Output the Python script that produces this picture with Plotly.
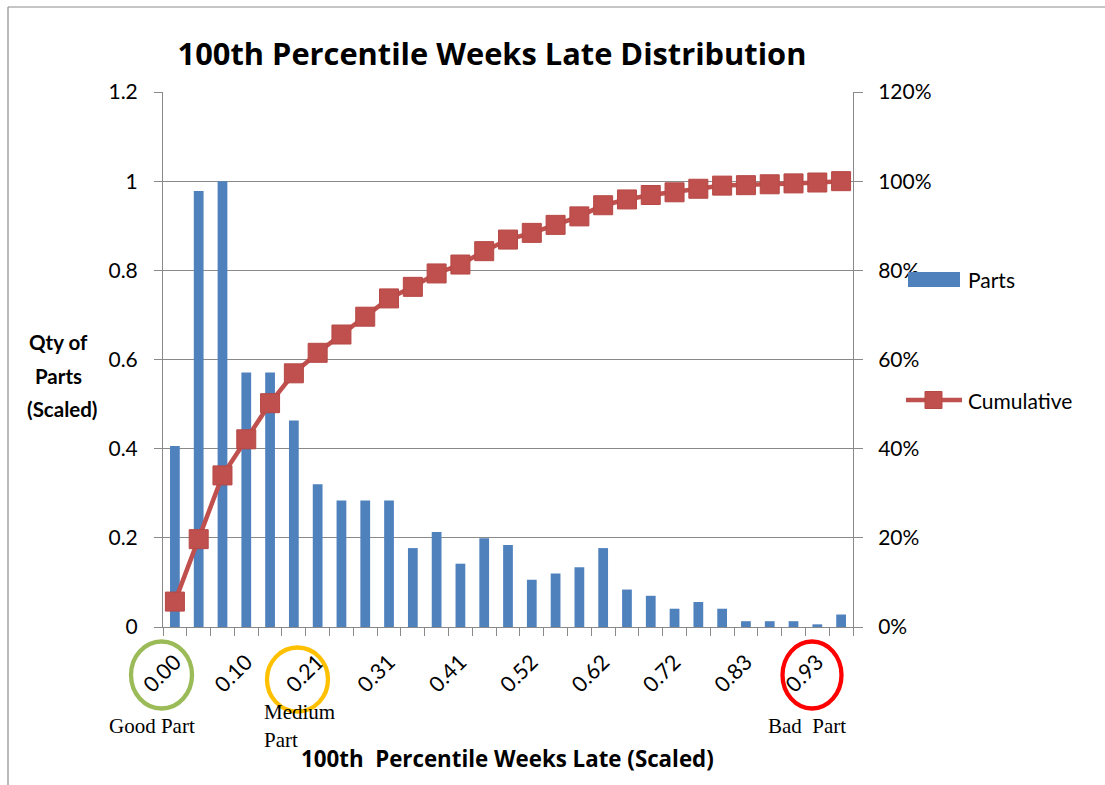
import plotly.graph_objects as go

# Category bins along the scaled "weeks late" axis
categories = ["0.00", "0.03", "0.07", "0.10", "0.14", "0.17", "0.21", "0.24", "0.28", "0.31",
              "0.34", "0.38", "0.41", "0.45", "0.48", "0.52", "0.55", "0.59", "0.62", "0.66",
              "0.69", "0.72", "0.76", "0.79", "0.83", "0.86", "0.90", "0.93", "0.97"]

# Scaled part counts per bin
parts = [0.406, 0.978, 1.000, 0.571, 0.571, 0.463, 0.320, 0.284, 0.284, 0.284,
         0.177, 0.213, 0.142, 0.199, 0.184, 0.106, 0.120, 0.134, 0.177, 0.084,
         0.070, 0.041, 0.056, 0.041, 0.013, 0.013, 0.013, 0.006, 0.028]

# Cumulative share of parts
cumulative = [0.057, 0.197, 0.340, 0.421, 0.502, 0.569, 0.615, 0.656, 0.696, 0.737,
              0.763, 0.793, 0.813, 0.843, 0.869, 0.884, 0.902, 0.921, 0.946, 0.959,
              0.969, 0.975, 0.983, 0.990, 0.991, 0.993, 0.995, 0.997, 1.000]

# Labels printed under the axis (every third bin)
shown_labels = ["0.00", "0.10", "0.21", "0.31", "0.41", "0.52", "0.62", "0.72", "0.83", "0.93"]

BLUE = "#4F81BD"
RED = "#C0504D"
GRID = "#898989"
SANS = "Lato, 'Open Sans', sans-serif"
HEAD = "'Open Sans', Lato, sans-serif"
SERIF = "'Liberation Serif', 'DejaVu Serif', serif"

W, H = 1105, 785
L, R, T, B = 163, 853, 92, 627


def px(x, y):
    """Convert page pixel position to paper coordinates."""
    return (x - L) / (R - L), (B - y) / (B - T)


fig = go.Figure()
fig.add_trace(go.Bar(
    x=categories, y=parts, name="Parts",
    marker=dict(color=BLUE, line=dict(width=0)),
    yaxis="y",
))
fig.add_trace(go.Scatter(
    x=categories, y=cumulative, name="Cumulative", mode="lines+markers",
    line=dict(color=RED, width=4.5),
    marker=dict(symbol="square", size=19, color=RED, line=dict(color="#B64845", width=1)),
    yaxis="y2",
))

ticktext = [c if c in shown_labels else "" for c in categories]

fig.update_layout(
    width=W, height=H,
    margin=dict(l=L, r=W - R, t=T, b=H - B, pad=0),
    paper_bgcolor="white", plot_bgcolor="white",
    showlegend=False,
    bargap=0.59,
    font=dict(family=SANS, size=21, color="black"),
    title=dict(text="<b>100th Percentile Weeks Late Distribution</b>",
               x=492 / W, xanchor="center", y=1 - 54 / H, yanchor="middle",
               font=dict(family=HEAD, size=30.8, color="black")),
    xaxis=dict(
        type="category", categoryorder="array", categoryarray=categories,
        range=[-0.5, len(categories) - 0.5],
        tickmode="array", tickvals=categories, ticktext=ticktext,
        tickson="boundaries", ticks="outside", ticklen=8, tickcolor=GRID, tickwidth=1,
        tickangle=-45, tickfont=dict(family=SANS, size=21.5),
        showgrid=False, showline=True, linecolor=GRID, linewidth=1,
        zeroline=False, ticklabelstandoff=13,
    ),
    yaxis=dict(
        range=[0, 1.2], dtick=0.2, tick0=0,
        ticks="outside", ticklen=8, tickcolor=GRID,
        showgrid=True, gridcolor=GRID, gridwidth=1,
        showline=True, linecolor=GRID, linewidth=1, zeroline=False,
        tickfont=dict(family=SANS, size=21), ticklabelstandoff=12,
    ),
    yaxis2=dict(
        range=[0, 1.2], dtick=0.2, tick0=0, tickformat=".0%",
        overlaying="y", side="right",
        ticks="outside", ticklen=9, tickcolor=GRID,
        showgrid=False, showline=True, linecolor=GRID, linewidth=1, zeroline=False,
        tickfont=dict(family=SANS, size=21), ticklabelstandoff=11,
    ),
)

annotations = []


def text(x, y, s, font, xanchor="center", yanchor="middle"):
    ax, ay = px(x, y)
    annotations.append(dict(x=ax, y=ay, xref="paper", yref="paper", text=s,
                            showarrow=False, xanchor=xanchor, yanchor=yanchor,
                            font=font))


ytitle_font = dict(family=SANS, size=20.5, color="black")
xtitle_font = dict(family=HEAD, size=22.3, color="black")
serif = dict(family=SERIF, size=21, color="black")

# Left axis title, three lines
text(58, 342, "<b>Qty of</b>", ytitle_font)
text(58, 376, "<b>Parts</b>", ytitle_font)
text(62, 409, "<b>(Scaled)</b>", ytitle_font)

# Bottom axis title
text(507, 758, "<b>100th\u00a0 Percentile Weeks Late (Scaled)</b>", xtitle_font)

# Part quality notes
text(152, 726, "Good Part", serif)
text(262, 712, "Medium", serif, xanchor="left")
text(262, 740, "Part", serif, xanchor="left")
text(807, 726, "Bad\u00a0 Part", serif)

# Legend labels
text(966, 279, "Parts", dict(family=SANS, size=21, color="black"), xanchor="left")
text(966, 400, "Cumulative", dict(family=SANS, size=21, color="black"), xanchor="left")

fig.update_layout(annotations=annotations)

shapes = []


def ellipse(cx, cy, rx, ry, color):
    x0, y0 = px(cx - rx, cy + ry)
    x1, y1 = px(cx + rx, cy - ry)
    shapes.append(dict(type="circle", xref="paper", yref="paper",
                       x0=x0, y0=y0, x1=x1, y1=y1,
                       line=dict(color=color, width=4.3)))


ellipse(161.5, 675, 30.5, 33.5, "#9BBB59")
ellipse(297.5, 679.5, 30.5, 32, "#FFC000")
ellipse(812, 675, 29.5, 33.5, "#FF0000")

# Legend symbols
x0, y0 = px(908, 287)
x1, y1 = px(960, 272)
shapes.append(dict(type="rect", xref="paper", yref="paper", x0=x0, y0=y0, x1=x1, y1=y1,
                   fillcolor=BLUE, line=dict(width=0)))
x0, y0 = px(906, 400)
x1, _ = px(962, 400)
shapes.append(dict(type="line", xref="paper", yref="paper", x0=x0, y0=y0, x1=x1, y1=y0,
                   line=dict(color=RED, width=4.5)))
x0, y0 = px(925, 408.5)
x1, y1 = px(942, 391.5)
shapes.append(dict(type="rect", xref="paper", yref="paper", x0=x0, y0=y0, x1=x1, y1=y1,
                   fillcolor=RED, line=dict(color="#B64845", width=1)))

# Chart frame (left and top edges)
fx0, fy0 = px(8, 785)
fx1, fy1 = px(1105, 7)
shapes.append(dict(type="line", xref="paper", yref="paper", x0=fx0, y0=fy0, x1=fx0, y1=fy1,
                   line=dict(color="#8C8C8C", width=1.2)))
shapes.append(dict(type="line", xref="paper", yref="paper", x0=fx0, y0=fy1, x1=fx1, y1=fy1,
                   line=dict(color="#8C8C8C", width=1.2)))

fig.update_layout(shapes=shapes)

fig.write_html("out.html")
